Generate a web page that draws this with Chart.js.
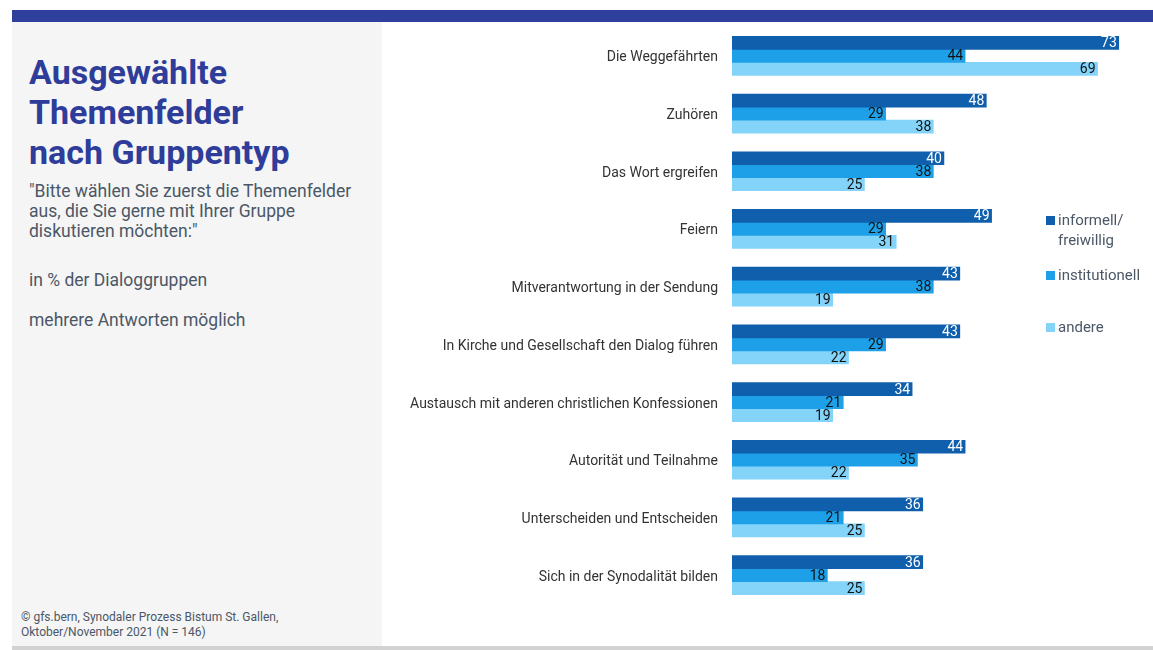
<!DOCTYPE html>
<html>
<head>
<meta charset="utf-8">
<script src="https://cdn.jsdelivr.net/npm/chart.js@4"></script>
<style>
  body { margin: 0; width: 1153px; height: 650px; background: #fff; position: relative; overflow: hidden; font-family: Roboto, "Noto Sans", sans-serif; }
  .topbar { position: absolute; left: 12px; top: 10px; width: 1141px; height: 12px; background: #2e3f9c; }
  .panel { position: absolute; left: 12px; top: 22px; width: 370px; height: 624px; background: #f5f5f5; }
  .bottomline { position: absolute; left: 12px; top: 646px; width: 1141px; height: 4px; background: #d2d2d2; }
  .title { position: absolute; left: 29px; top: 52px; font-size: 34px; font-weight: bold; line-height: 40px; color: #2e3c9a; }
  .sub { position: absolute; left: 29px; top: 181px; font-size: 17.5px; line-height: 20px; color: #4b5766; }
  .note { position: absolute; left: 29px; font-size: 17.5px; color: #4b5766; }
  .foot { position: absolute; left: 21px; top: 610px; font-size: 12px; line-height: 15px; color: #4b5766; }
  .wrap { position: absolute; left: 382px; top: 27px; width: 750px; height: 577px; }
  .leg { position: absolute; left: 1046px; font-size: 15px; line-height: 20px; color: #4b5766; }
  .leg i { position: absolute; left: 0; top: 6px; width: 9px; height: 9px; }
  .leg span { display: block; margin-left: 12px; }
</style>
</head>
<body>
<div class="topbar"></div>
<div class="panel"></div>
<div class="bottomline"></div>
<div class="title">Ausgewählte<br>Themenfelder<br>nach Gruppentyp</div>
<div class="sub">"Bitte wählen Sie zuerst die Themenfelder<br>aus, die Sie gerne mit Ihrer Gruppe<br>diskutieren möchten:"</div>
<div class="note" style="top:270px">in % der Dialoggruppen</div>
<div class="note" style="top:310px">mehrere Antworten möglich</div>
<div class="foot">© gfs.bern, Synodaler Prozess Bistum St. Gallen,<br>Oktober/November 2021 (N = 146)</div>
<div class="wrap"><canvas id="myChart"></canvas></div>
<div class="leg" style="top:210px"><i style="background:#0f5fad"></i><span>informell/<br>freiwillig</span></div>
<div class="leg" style="top:265px"><i style="background:#1ea0e8"></i><span>institutionell</span></div>
<div class="leg" style="top:317px"><i style="background:#84d4fa"></i><span>andere</span></div>
<script>
const categories = ['Die Weggefährten', 'Zuhören', 'Das Wort ergreifen', 'Feiern', 'Mitverantwortung in der Sendung',
    'In Kirche und Gesellschaft den Dialog führen', 'Austausch mit anderen christlichen Konfessionen',
    'Autorität und Teilnahme', 'Unterscheiden und Entscheiden', 'Sich in der Synodalität bilden'];
const informell = [73, 48, 40, 49, 43, 43, 34, 44, 36, 36];
const institutionell = [44, 29, 38, 29, 38, 29, 21, 35, 21, 18];
const andere = [69, 38, 25, 31, 19, 22, 19, 22, 25, 25];

// values written inside the bar end
const barLabels = {
    id: 'barLabels',
    afterDatasetsDraw(chart) {
        const ctx = chart.ctx;
        ctx.save();
        ctx.font = '14px Roboto, sans-serif';
        ctx.textAlign = 'right';
        ctx.textBaseline = 'middle';
        chart.data.datasets.forEach((ds, i) => {
            ctx.fillStyle = i === 0 ? '#ffffff' : '#111111';
            chart.getDatasetMeta(i).data.forEach((bar, j) => {
                ctx.fillText(ds.data[j], bar.x - 2, bar.y + 1);
            });
        });
        ctx.restore();
    }
};

window.addEventListener('DOMContentLoaded', () => {
    const ctx = document.getElementById('myChart').getContext('2d');
    new Chart(ctx, {
        type: 'bar',
        data: {
            labels: categories,
            datasets: [
                { label: 'informell/freiwillig', data: informell, backgroundColor: '#0f5fad' },
                { label: 'institutionell', data: institutionell, backgroundColor: '#1ea0e8' },
                { label: 'andere', data: andere, backgroundColor: '#84d4fa' }
            ]
        },
        options: {
            indexAxis: 'y',
            responsive: true,
            maintainAspectRatio: false,
            animation: false,
            barThickness: 13,
            layout: { padding: 0 },
            plugins: { legend: { display: false }, tooltip: { enabled: false } },
            scales: {
                x: { display: false, min: 0, max: 75.5 },
                y: {
                    grid: { display: false, drawTicks: false },
                    border: { display: false },
                    ticks: { color: '#333333', padding: 14, labelOffset: 2, font: { family: 'Roboto', size: 14 } },
                    afterFit: s => { s.width = 350; s.paddingTop = 0; s.paddingBottom = 0; }
                }
            }
        },
        plugins: [barLabels]
    });
});
</script>
</body>
</html>
